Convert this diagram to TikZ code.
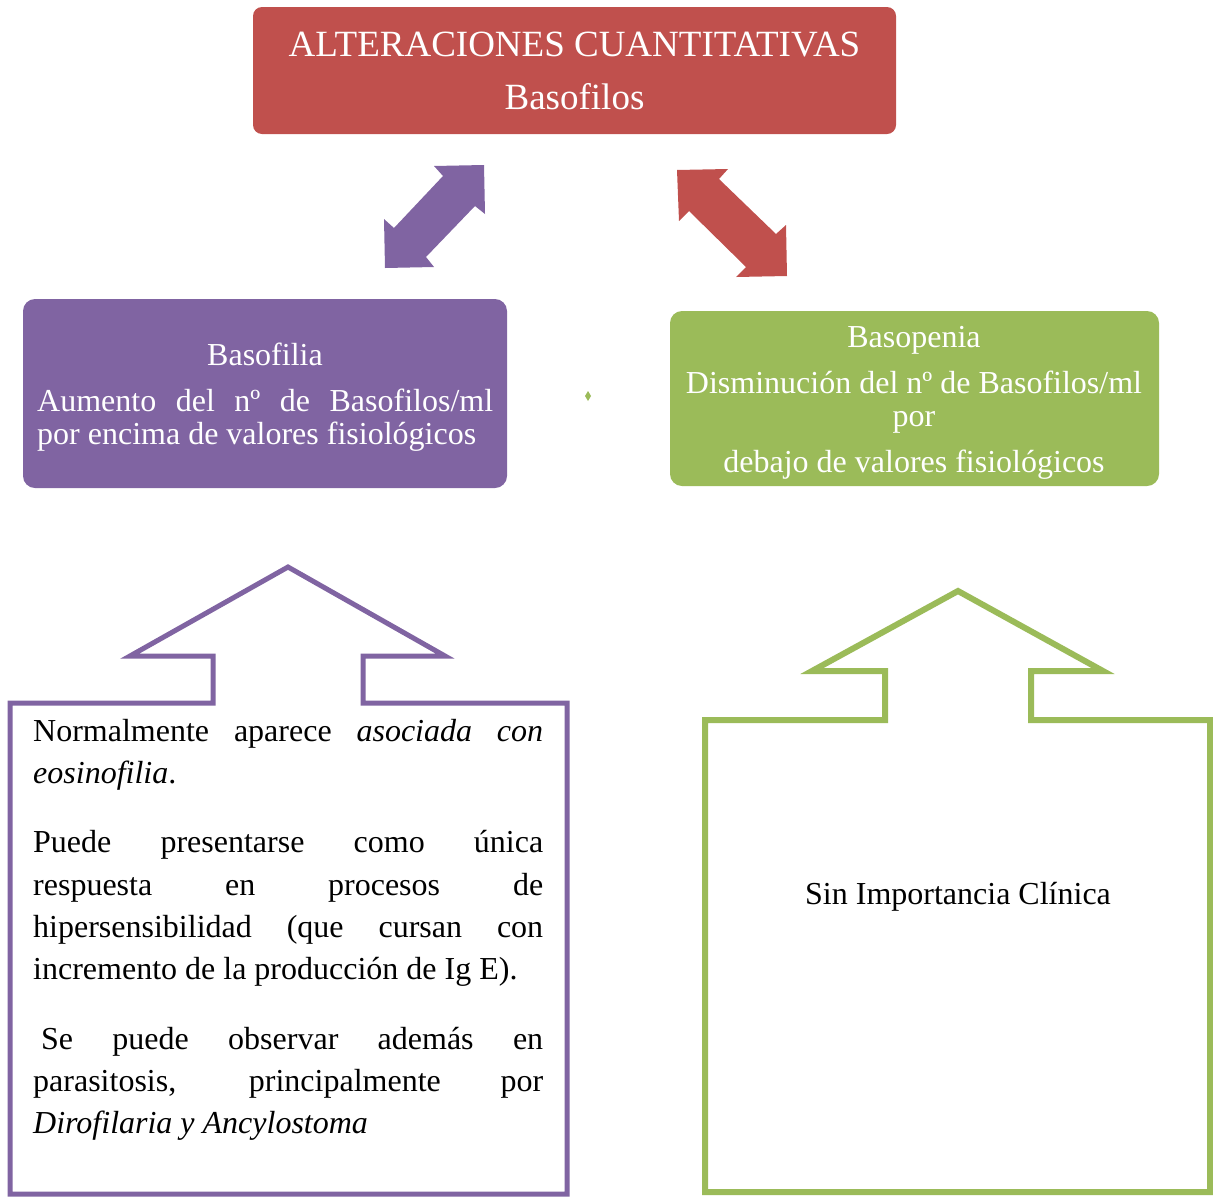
\documentclass[tikz,border=0pt]{standalone}
\usepackage{fontspec}
\setmainfont{Liberation Serif}
\definecolor{redbox}{HTML}{C0504D}
\definecolor{purplebox}{HTML}{8064A2}
\definecolor{greenbox}{HTML}{9BBB59}

\begin{document}
\begin{tikzpicture}[x=1pt,y=-1pt,
  panel/.style={rounded corners=#1, inner sep=0pt, draw=none},
  titlefont/.style={font=\fontsize{37}{42}\selectfont},
  bodyfont/.style={font=\fontsize{32}{42}\selectfont},
  line/.style={inner sep=0pt, anchor=base west, bodyfont},
  cline/.style={inner sep=0pt, anchor=base, bodyfont},
  callout/.style={line width=5pt, miter limit=20}]
\useasboundingbox (0,0) rectangle (1213,1197);

% header panel
\node (top) [panel=9pt, fill=redbox, minimum width=643pt, minimum height=127pt] at (574.5,70.5) {};
\node (topA) [cline, titlefont, text=white] at (574.5,56) {ALTERACIONES CUANTITATIVAS};
\node (topB) [cline, titlefont, text=white] at (574.5,109) {Basofilos};

% Basofilia panel
\node (basofilia) [panel=12pt, fill=purplebox, minimum width=484pt, minimum height=189pt] at (265,393.5) {};
\node (bfA) [cline, text=white] at (265,365) {Basofilia};
\node (bfB) [line, text=white] at (37,411) {\makebox[456pt][s]{Aumento del nº de Basofilos/ml}};
\node (bfC) [line, text=white] at (37,444) {por encima de valores fisiológicos};

% Basopenia panel
\node (basopenia) [panel=12pt, fill=greenbox, minimum width=489pt, minimum height=175pt] at (914.5,398.5) {};
\node (bpA) [cline, text=white] at (914,347) {Basopenia};
\node (bpB) [cline, text=white] at (914,393) {Disminución del nº de Basofilos/ml};
\node (bpC) [cline, text=white] at (914,426) {por};
\node (bpD) [cline, text=white] at (914,472) {debajo de valores fisiológicos};

% small marker between the panels
\fill[greenbox] (588,391) -- (591,396) -- (588,401) -- (585,396) -- cycle;

% double block arrows from the header to each panel
\fill[purplebox] (385,268) -- (384,219) -- (394,228) -- (443,176) -- (434,166)
  -- (484,165) -- (485,214) -- (475,206) -- (426,257) -- (434,267) -- cycle;
\fill[redbox] (677,170) -- (728,169) -- (719,179) -- (776,234) -- (786,225)
  -- (787,276) -- (736,277) -- (746,267) -- (689,211) -- (679,221) -- cycle;

% up-arrow callouts
\draw[callout, draw=purplebox] (288,567) -- (445,656) -- (363,656) -- (363,703)
  -- (567,703) -- (567,1194) -- (10,1194) -- (10,703) -- (213,703) -- (213,656)
  -- (130,656) -- cycle;
\draw[callout, draw=greenbox, line width=6pt] (958,591) -- (1103,671) -- (1031,671) -- (1031,720)
  -- (1210,720) -- (1210,1192) -- (705,1192) -- (705,720) -- (885,720) -- (885,671)
  -- (812,671) -- cycle;

% text of the left callout
\node (pA1) [line] at (33,741) {\makebox[510pt][s]{Normalmente aparece \textit{asociada con}}};
\node (pA2) [line] at (33,783) {\textit{eosinofilia}.};
\node (pB1) [line] at (33,852) {\makebox[510pt][s]{Puede presentarse como única}};
\node (pB2) [line] at (33,895) {\makebox[510pt][s]{respuesta en procesos de}};
\node (pB3) [line] at (33,937) {\makebox[510pt][s]{hipersensibilidad (que cursan con}};
\node (pB4) [line] at (33,979) {incremento de la producción de Ig E).};
\node (pC1) [line] at (41,1049) {\makebox[502pt][s]{Se puede observar además en}};
\node (pC2) [line] at (33,1091) {\makebox[510pt][s]{parasitosis, principalmente por}};
\node (pC3) [line] at (33,1133) {\textit{Dirofilaria y Ancylostoma}};

% text of the right callout
\node (sic) [cline] at (958,904) {Sin Importancia Clínica};
\end{tikzpicture}
\end{document}
